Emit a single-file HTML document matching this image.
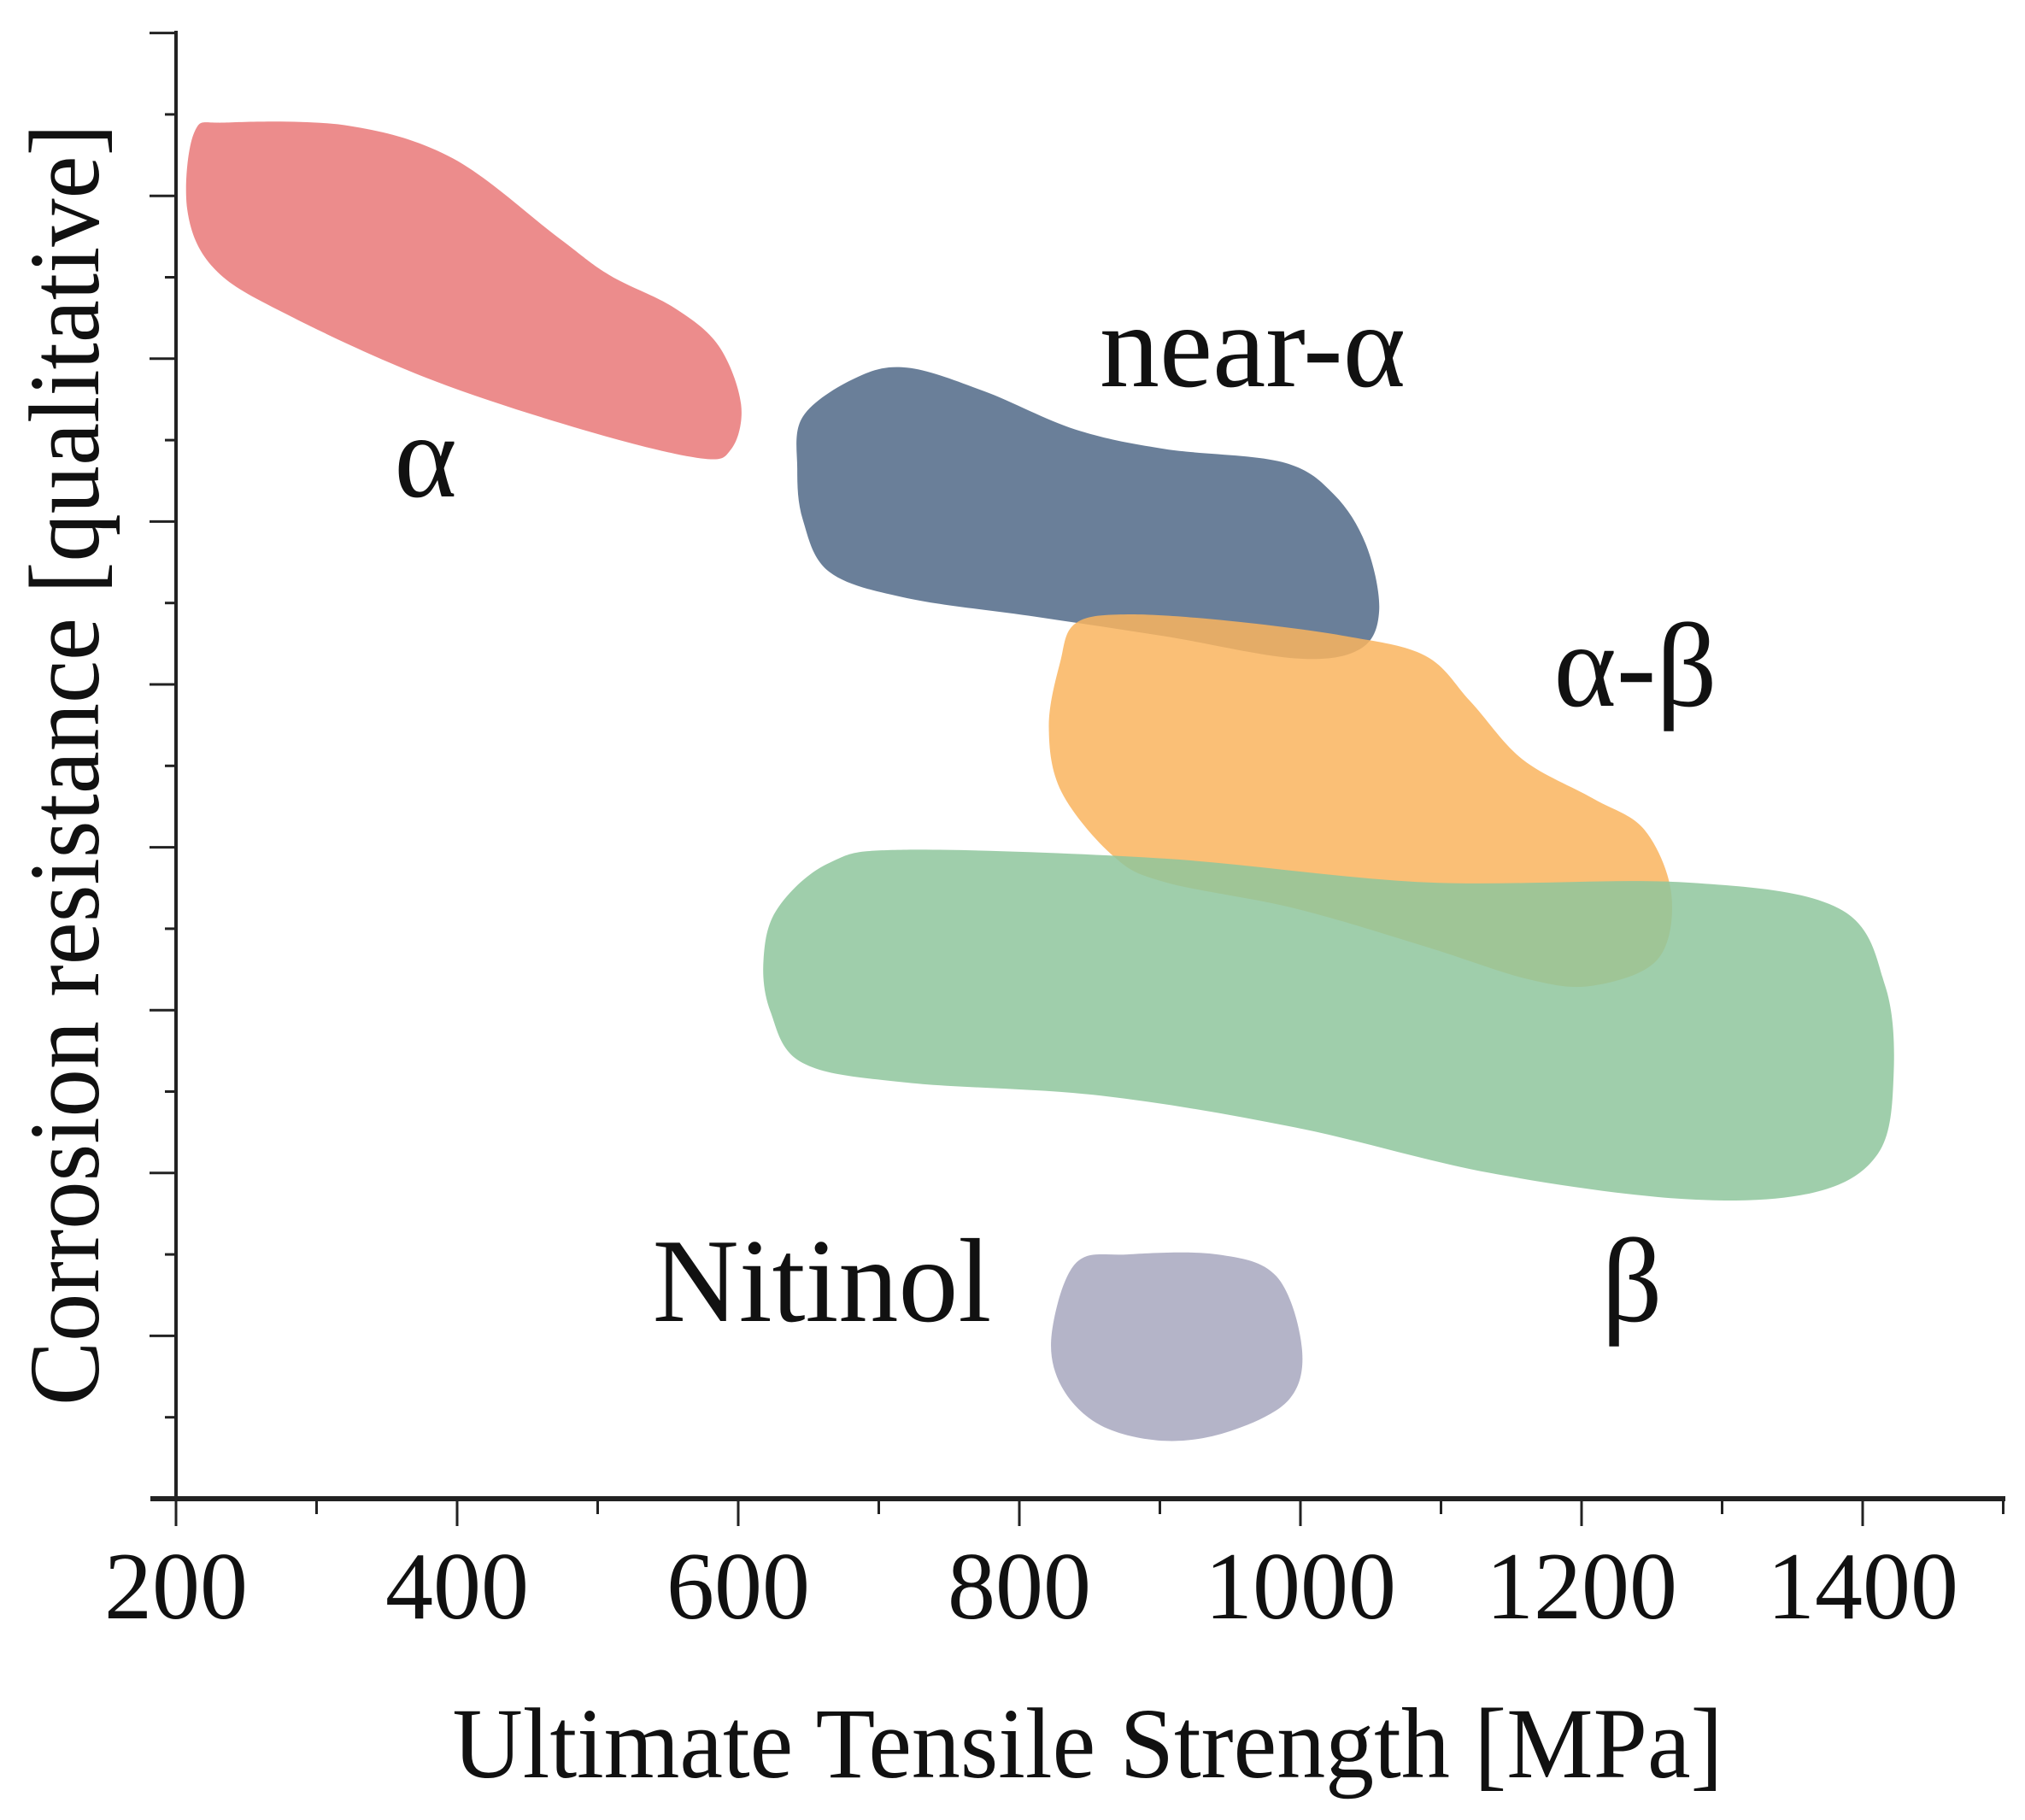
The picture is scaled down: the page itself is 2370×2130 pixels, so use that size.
<!DOCTYPE html>
<html><head><meta charset="utf-8"><style>
html,body{margin:0;padding:0;background:#fff}
svg{display:block}
text{font-family:"Liberation Serif",serif;fill:#111}
</style></head><body>
<svg id="chart" width="2370" height="2130" viewBox="0 0 2370 2130">
<g id="regions"></g>
<g id="axes"></g>
<g id="labels"></g>
</svg>
<script>
// ---- data ----
const xTicks = [200, 400, 600, 800, 1000, 1200, 1400];
const xMinorTicks = [300, 500, 700, 900, 1100, 1300, 1500];
const yLevels = [1,2,3,4,5,6,7,8,9,10,11,12,13,14,15,16,17,18];
const regionNames = ["alpha", "near-alpha", "alpha-beta", "beta", "nitinol"];
const alphaMPa = [213,236,323,397,471,508,554,586,602,595,572,489,379,277,227,208];
const alphaLvl = [16.78,16.9,16.86,16.46,15.5,15.03,14.63,14.16,13.44,12.89,12.78,13.13,13.76,14.56,15.11,15.83];
const nearAlphaMPa = [646,683,720,775,840,904,987,1024,1047,1056,1042,996,904,812,720,665,646,642];
const nearAlphaLvl = [13.29,13.76,13.89,13.6,13.13,12.89,12.73,12.33,11.7,10.9,10.43,10.32,10.59,10.83,11.06,11.38,12.02,12.65];
const alphaBetaMPa = [840,877,950,1033,1089,1121,1158,1208,1245,1264,1254,1208,1162,1089,996,904,867,830,821,829];
const alphaBetaLvl = [10.75,10.86,10.78,10.59,10.35,9.79,9.08,8.6,8.21,7.41,6.62,6.3,6.38,6.78,7.25,7.57,7.89,8.68,9.48,10.27];
const betaMPa = [628,665,720,904,1089,1273,1383,1416,1422,1411,1365,1273,1135,996,858,720,646,623,618];
const betaLvl = [7.25,7.81,7.97,7.86,7.57,7.57,7.25,6.3,5.19,4.24,3.76,3.68,4.0,4.56,4.95,5.11,5.35,5.98,6.62];
const nitinolMPa = [840,877,941,983,1001,992,950,904,858,830,823];
const nitinolLvl = [2.89,3.0,3.0,2.73,1.86,1.22,0.83,0.71,0.9,1.38,2.02];

// ---- scales ----
const X0 = 206, PX_PER_MPA = (2180 - 206) / 1200;
const Y0 = 1754, PX_PER_LVL = 95.3;
const xs = v => X0 + (v - 200) * PX_PER_MPA;
const ys = v => Y0 - v * PX_PER_LVL;
const NS = "http://www.w3.org/2000/svg";
function mk(tag, attrs, parent) {
  const e = document.createElementNS(NS, tag);
  for (const k in attrs) e.setAttribute(k, attrs[k]);
  parent.appendChild(e);
  return e;
}
function smoothPath(xsArr, ysArr) {
  const p = xsArr.map((v, i) => [xs(v), ys(ysArr[i])]);
  const n = p.length;
  let d = "M" + p[0][0].toFixed(1) + "," + p[0][1].toFixed(1);
  for (let i = 0; i < n; i++) {
    const p0 = p[(i - 1 + n) % n], p1 = p[i], p2 = p[(i + 1) % n], p3 = p[(i + 2) % n];
    const c1x = p1[0] + (p2[0] - p0[0]) / 6, c1y = p1[1] + (p2[1] - p0[1]) / 6;
    const c2x = p2[0] - (p3[0] - p1[0]) / 6, c2y = p2[1] - (p3[1] - p1[1]) / 6;
    d += " C" + c1x.toFixed(1) + "," + c1y.toFixed(1) + " " + c2x.toFixed(1) + "," + c2y.toFixed(1) + " " + p2[0].toFixed(1) + "," + p2[1].toFixed(1);
  }
  return d + "Z";
}
const regions = document.getElementById("regions");
const regionData = [
  [alphaMPa, alphaLvl, "#ec8c8c", 1],
  [nearAlphaMPa, nearAlphaLvl, "#6a7f99", 1],
  [alphaBetaMPa, alphaBetaLvl, "#f9b45e", 0.85],
  [betaMPa, betaLvl, "#8ec59c", 0.85],
  [nitinolMPa, nitinolLvl, "#b4b4c8", 1]
];
regionData.forEach((r, i) => {
  const el = mk("path", {d: smoothPath(r[0], r[1]), fill: r[2], "fill-opacity": r[3]}, regions);
  
  
});

// ---- axes ----
const axes = document.getElementById("axes");
const yAxis = mk("line", {x1: X0, y1: 36, x2: X0, y2: Y0 + 2, stroke: "#222", "stroke-width": 4}, axes);


const xAxis = mk("line", {x1: 176, y1: Y0, x2: 2347, y2: Y0, stroke: "#222", "stroke-width": 6}, axes);


yLevels.forEach(l => {
  const major = l % 2 === 0;
  const t = mk("line", {x1: major ? 175 : 193, y1: ys(l), x2: X0, y2: ys(l), stroke: "#222", "stroke-width": 3}, axes);
  
  
});
xTicks.forEach(v => {
  const t = mk("line", {x1: xs(v), y1: Y0, x2: xs(v), y2: Y0 + 32, stroke: "#222", "stroke-width": 3}, axes);
  
  
  const lb = mk("text", {x: xs(v), y: 1894, "text-anchor": "middle", "font-size": 112}, axes);
  lb.textContent = v;
  
  
});
xMinorTicks.forEach(v => {
  const t = mk("line", {x1: xs(v), y1: Y0, x2: xs(v), y2: Y0 + 18, stroke: "#222", "stroke-width": 3}, axes);
  
  
});
const xt = mk("text", {x: 1273, y: 2080, "text-anchor": "middle", "font-size": 118, textLength: 1487, lengthAdjust: "spacingAndGlyphs"}, axes);
xt.textContent = "Ultimate Tensile Strength [MPa]";


const yt = mk("text", {x: 0, y: 0, "text-anchor": "middle", "font-size": 118, textLength: 1500, lengthAdjust: "spacingAndGlyphs", transform: "translate(115,895) rotate(-90)"}, axes);
yt.textContent = "Corrosion resistance [qualitative]";



// ---- labels ----
const labels = document.getElementById("labels");
const labelText = ["α", "near-α", "α-β", "β", "Nitinol"];
const labelX = [498, 1466, 1914, 1910, 962];
const labelY = [581, 452, 826, 1546, 1546];
const labelNames = ["label-alpha", "label-near-alpha", "label-alpha-beta", "label-beta", "label-nitinol"];
labelText.forEach((t, i) => {
  const e = mk("text", {x: labelX[i], y: labelY[i], "text-anchor": "middle", "font-size": 140}, labels);
  e.textContent = t;
  
  
});
</script>
</body></html>
